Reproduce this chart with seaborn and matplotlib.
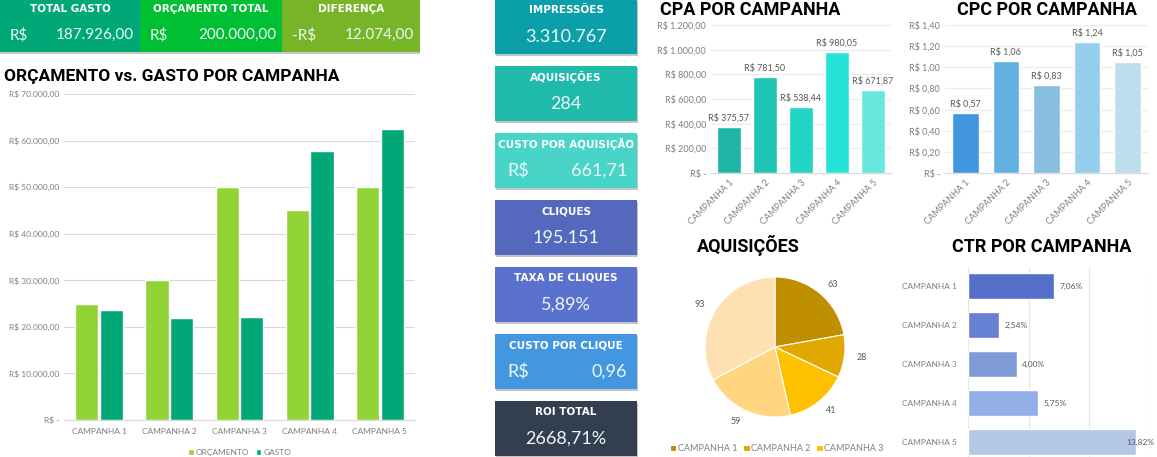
import numpy as np
import pandas as pd
import matplotlib
matplotlib.use('Agg')
import matplotlib.pyplot as plt
from matplotlib.patches import Rectangle
from matplotlib.ticker import FuncFormatter, MultipleLocator
import seaborn as sns

# dados do painel
campanhas = ['CAMPANHA 1', 'CAMPANHA 2', 'CAMPANHA 3', 'CAMPANHA 4', 'CAMPANHA 5']
orcamento = [25000, 30000, 50000, 45000, 50000]
gasto = [23660.91, 21882.00, 22076.04, 57822.95, 62483.91]
cpa = [375.57, 781.50, 538.44, 980.05, 671.87]
cpc = [0.57, 1.06, 0.83, 1.24, 1.05]
aquisicoes = [63, 28, 41, 59, 93]
ctr = [7.06, 2.54, 4.00, 5.75, 13.82]

topo_titulos = ['TOTAL GASTO', 'ORÇAMENTO TOTAL', 'DIFERENÇA']
topo_prefixos = ['R$', 'R$', '-R$']
topo_valores = ['187.926,00', '200.000,00', '12.074,00']

card_titulos = ['IMPRESSÕES', 'AQUISIÇÕES', 'CUSTO POR AQUISIÇÃO', 'CLIQUES',
                'TAXA DE CLIQUES', 'CUSTO POR CLIQUE', 'ROI TOTAL']
card_prefixos = ['', '', 'R$', '', '', 'R$', '']
card_valores = ['3.310.767', '284', '661,71', '195.151', '5,89%', '0,96', '2668,71%']

# cores
topo_cores = ['#00A878', '#00BF33', '#78B428']
card_cores = ['#0B9FA9', '#20BAAA', '#48D4C6', '#5468BD', '#5A72CE', '#4397E0', '#333F50']
barra_cores = ['#92D336', '#00A878']
cpa_cores = ['#1EB5A6', '#20C4B5', '#22D4C4', '#25E4D7', '#66E8DF']
cpc_cores = ['#4196DF', '#61B0E0', '#88BFE0', '#95CDEF', '#BCDDEC']
pie_cores = ['#BF8F00', '#E0A800', '#FFC000', '#FFD580', '#FFE0B2']
ctr_cores = ['#5570CB', '#6680D4', '#7F9CD8', '#93AFE8', '#B4C7E7']

CINZA = '#7F7F7F'
GRADE = '#D9D9D9'
TXT_CLARO = '#EEF7F7'

sns.set_style('white')
plt.rcParams['font.family'] = ['Lato', 'DejaVu Sans']

W, H = 1157, 457


def caixa(x0, y0, x1, y1):
    return [x0 / W, 1 - y1 / H, (x1 - x0) / W, (y1 - y0) / H]


def brl(v, pos=None, casas=2):
    if v == 0:
        return 'R$ -'
    s = f'{v:,.{casas}f}'.replace(',', '#').replace('.', ',').replace('#', '.')
    return 'R$ ' + s


def pct(v):
    return f'{v:.2f}%'.replace('.', ',')


def titulo(txt, x, y, ha='left', size=13):
    # y = linha de base do texto
    bg.text(x, y, txt, ha=ha, va='baseline', fontsize=size, fontweight='bold',
            family=['Roboto', 'DejaVu Sans'], color='black')


def estilo_eixo(ax):
    ax.set_xlabel('')
    ax.set_ylabel('')
    for s in ['top', 'right', 'left']:
        ax.spines[s].set_visible(False)
    ax.spines['bottom'].set_color(GRADE)
    ax.tick_params(length=0, labelsize=6, colors=CINZA)
    ax.set_facecolor('none')


fig = plt.figure(figsize=(W / 100, H / 100), dpi=100)
bg = fig.add_axes([0, 0, 1, 1])
bg.set_xlim(0, W)
bg.set_ylim(H, 0)
bg.axis('off')

# faixa de cima
topo_x = [(0, 140), (140, 282), (282, 420)]
bg.add_patch(Rectangle((0, 51), 420, 3, color='#C8C8C8', lw=0))
for (x0, x1), cor, t, pre, val in zip(topo_x, topo_cores, topo_titulos, topo_prefixos, topo_valores):
    bg.add_patch(Rectangle((x0, 0), x1 - x0, 52, color=cor, lw=0))
    bg.text((x0 + x1) / 2, 9, t, ha='center', va='center', color='white',
            fontsize=7.5, fontweight='bold', family='DejaVu Sans')
    bg.text(x0 + 10 if x0 > 0 else 10, 35, pre, ha='left', va='center', color=TXT_CLARO, fontsize=11)
    bg.text(x1 - 6, 35, val, ha='right', va='center', color=TXT_CLARO, fontsize=11)

# cartoes da coluna do meio
card_y = [-1, 66, 133, 200, 267, 334, 401]
for y0, cor, t, pre, val in zip(card_y, card_cores, card_titulos, card_prefixos, card_valores):
    bg.add_patch(Rectangle((496, y0 + 1.5), 142, 55, color='#C4C4C4', lw=0))
    bg.add_patch(Rectangle((495, y0), 142, 55, color=cor, lw=0))
    bg.text(566, y0 + 11, t, ha='center', va='center', color='white',
            fontsize=7.5, fontweight='bold', family='DejaVu Sans')
    if pre:
        bg.text(507, y0 + 38, pre, ha='left', va='center', color=TXT_CLARO, fontsize=13)
        bg.text(627, y0 + 38, val, ha='right', va='center', color=TXT_CLARO, fontsize=13)
    else:
        bg.text(566, y0 + 38, val, ha='center', va='center', color=TXT_CLARO, fontsize=13)

# orçamento vs gasto
titulo('ORÇAMENTO vs. GASTO POR CAMPANHA', 4, 81, size=12.5)
df = pd.DataFrame({
    'campanha': campanhas * 2,
    'valor': orcamento + gasto,
    'tipo': ['ORÇAMENTO'] * len(campanhas) + ['GASTO'] * len(campanhas),
})
ax1 = fig.add_axes(caixa(64, 94, 415, 420))
sns.barplot(data=df, x='campanha', y='valor', hue='tipo', palette=barra_cores,
            width=0.7, gap=0.06, saturation=1, ax=ax1)
ax1.set_ylim(0, 70000)
ax1.yaxis.set_major_locator(MultipleLocator(10000))
ax1.yaxis.set_major_formatter(FuncFormatter(brl))
ax1.grid(axis='y', color=GRADE, lw=0.8)
ax1.set_axisbelow(True)
estilo_eixo(ax1)
ax1.tick_params(axis='x', pad=6)
ax1.legend(loc='upper center', bbox_to_anchor=(0.5, -0.065), ncol=2, frameon=False,
           fontsize=6, handlelength=0.7, handleheight=0.7, handletextpad=0.2,
           columnspacing=0.8, labelcolor=CINZA)

# CPA
titulo('CPA POR CAMPANHA', 660, 15)
ax2 = fig.add_axes(caixa(711, 25, 891, 173))
sns.barplot(x=campanhas, y=cpa, hue=campanhas, palette=cpa_cores, legend=False,
            width=0.67, saturation=1, ax=ax2)
ax2.set_ylim(0, 1200)
ax2.yaxis.set_major_locator(MultipleLocator(200))
ax2.yaxis.set_major_formatter(FuncFormatter(brl))
ax2.grid(axis='y', color='#EBEBEB', lw=0.8)
ax2.set_axisbelow(True)
estilo_eixo(ax2)
ax2.tick_params(labelsize=6.5)
for cont, v in zip(ax2.containers, cpa):
    ax2.bar_label(cont, labels=[brl(v)], padding=3, fontsize=6.5, color='#595959')
plt.setp(ax2.get_xticklabels(), rotation=45, ha='right', rotation_mode='anchor')

# CPC
titulo('CPC POR CAMPANHA', 957, 15)
ax3 = fig.add_axes(caixa(945, 25, 1148, 173))
sns.barplot(x=campanhas, y=cpc, hue=campanhas, palette=cpc_cores, legend=False,
            width=0.66, saturation=1, ax=ax3)
ax3.set_ylim(0, 1.4)
ax3.yaxis.set_major_locator(MultipleLocator(0.2))
ax3.yaxis.set_major_formatter(FuncFormatter(brl))
ax3.grid(axis='y', color='#EBEBEB', lw=0.8)
ax3.set_axisbelow(True)
estilo_eixo(ax3)
ax3.tick_params(labelsize=6.5)
for cont, v in zip(ax3.containers, cpc):
    ax3.bar_label(cont, labels=[brl(v)], padding=3, fontsize=6.5, color='#595959')
plt.setp(ax3.get_xticklabels(), rotation=45, ha='right', rotation_mode='anchor')

# aquisições (pizza)
titulo('AQUISIÇÕES', 697, 252)
ax4 = fig.add_axes(caixa(670, 242, 880, 452))
fatias, textos = ax4.pie(aquisicoes, colors=pie_cores, startangle=90, counterclock=False,
                         labels=[str(v) for v in aquisicoes], labeldistance=1.17,
                         wedgeprops=dict(edgecolor='white', linewidth=0.8),
                         textprops=dict(fontsize=6.5, color='#595959'))
ax4.set_xlim(-1.5, 1.5)
ax4.set_ylim(-1.5, 1.5)
ax4.set_aspect('equal')
# legenda preenchida por linha (3 colunas)
ordem = [0, 3, 1, 4, 2]
ax4.legend([fatias[i] for i in ordem], [campanhas[i] for i in ordem], loc='upper center',
           bbox_to_anchor=(777 / W, 1 - 436 / H), bbox_transform=fig.transFigure, ncol=3,
           frameon=False, fontsize=6.5, handlelength=0.7, handleheight=0.7,
           handletextpad=0.2, columnspacing=0.6, labelcolor=CINZA)

# CTR
titulo('CTR POR CAMPANHA', 1042, 252, ha='center')
ax5 = fig.add_axes(caixa(968, 266.5, 1150, 461.5))
sns.barplot(x=ctr, y=campanhas, hue=campanhas, palette=ctr_cores, legend=False,
            orient='h', width=0.67, saturation=1, ax=ax5)
ax5.set_xlim(0, 15)
ax5.xaxis.set_major_locator(MultipleLocator(5))
ax5.grid(axis='x', color='#E6E6E6', lw=0.8)
ax5.set_axisbelow(True)
estilo_eixo(ax5)
ax5.spines['bottom'].set_visible(False)
ax5.set_xticklabels([])
ax5.tick_params(axis='y', pad=8)
for cont, v in zip(ax5.containers, ctr):
    pad = 4 if v < max(ctr) else -7
    ax5.bar_label(cont, labels=[pct(v)], padding=pad, fontsize=6, color='#595959')

fig.savefig('out.png', dpi=100)
